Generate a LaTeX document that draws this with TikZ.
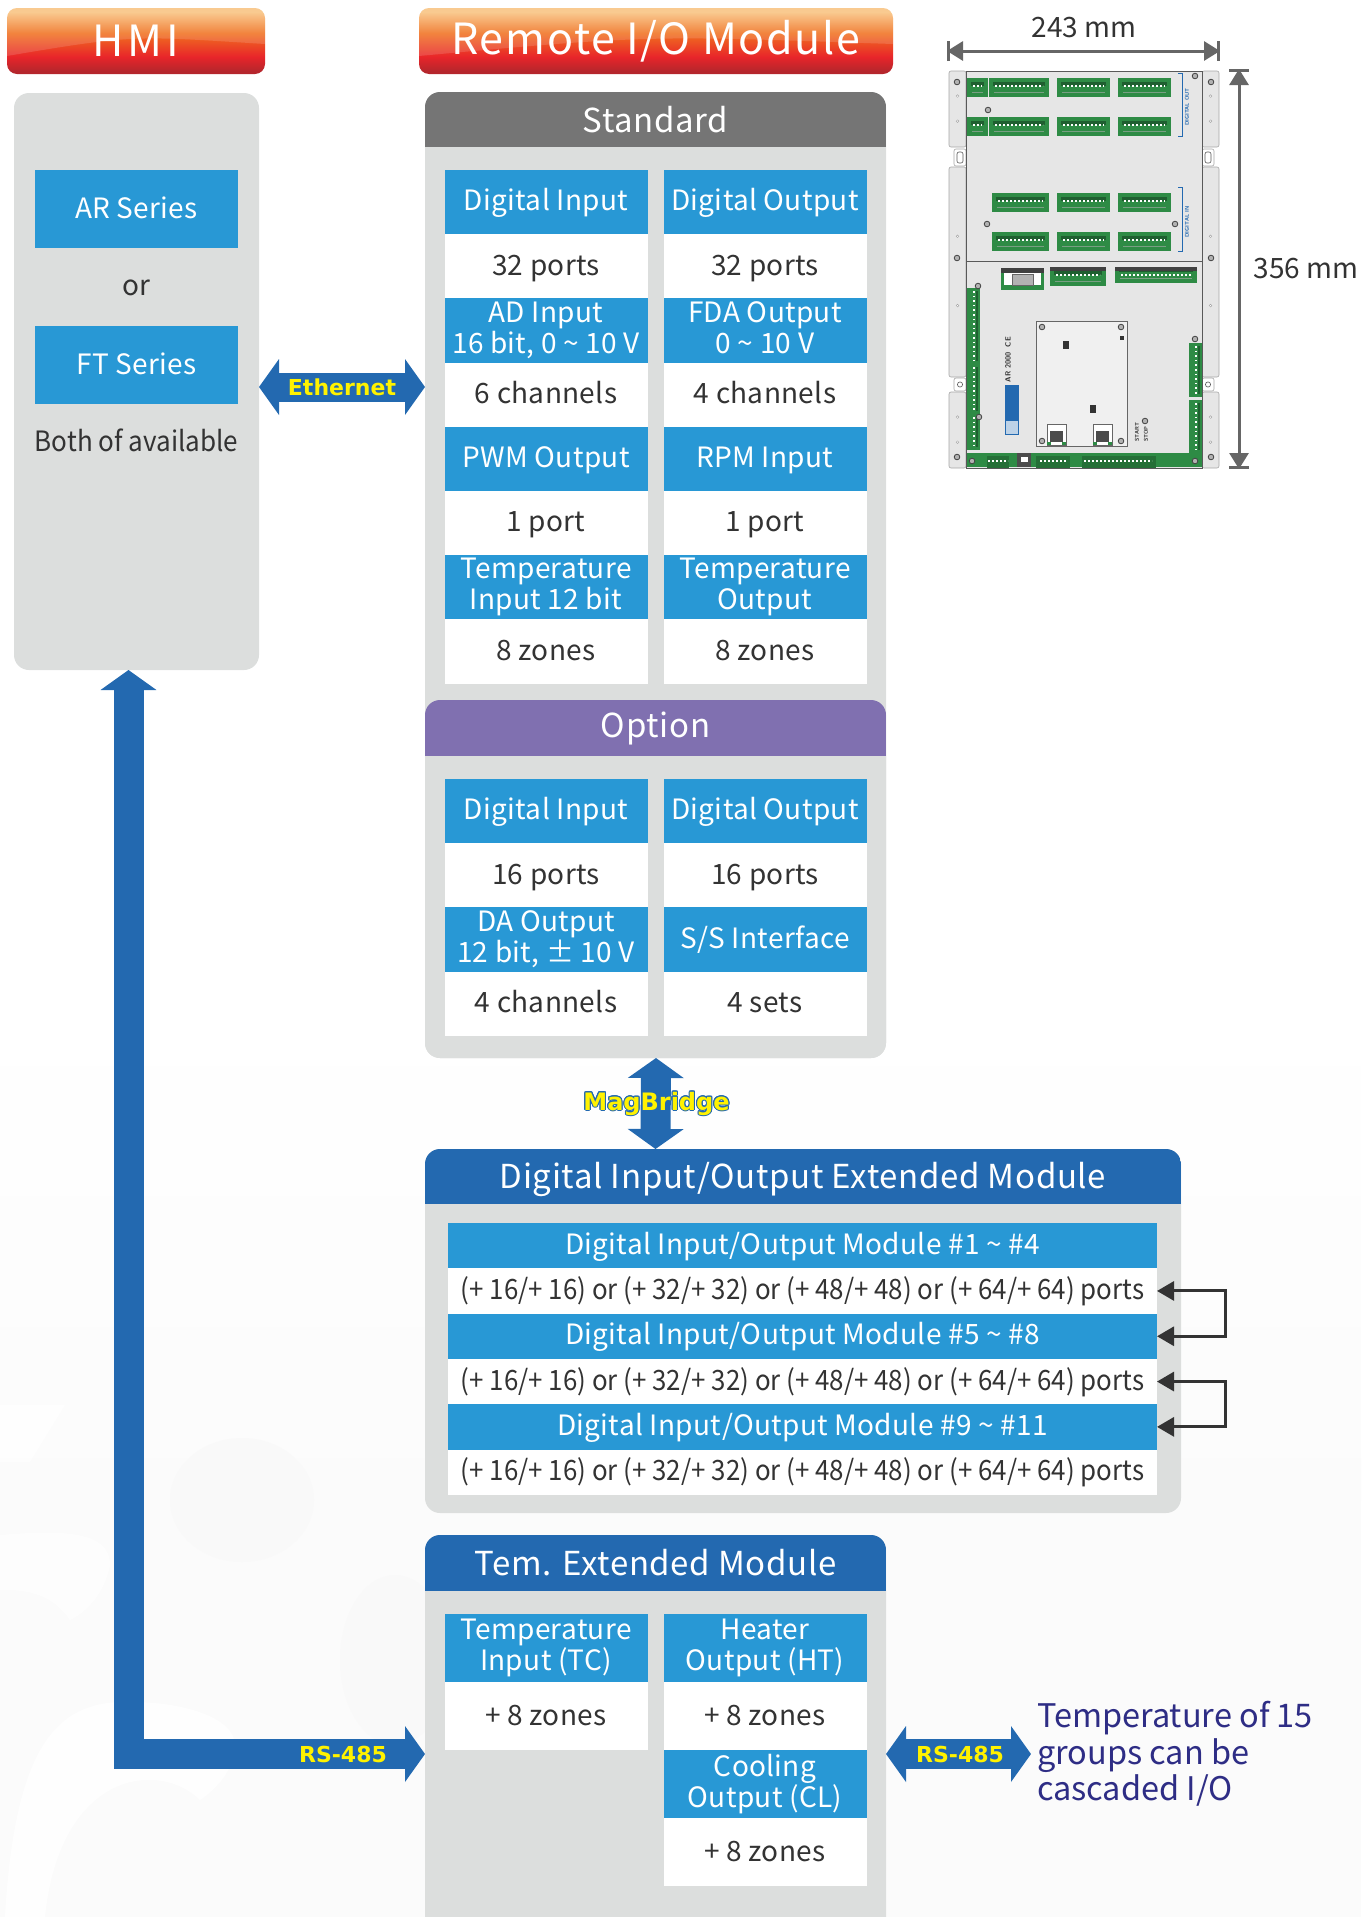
\documentclass[tikz,border=0pt]{standalone}
\usepackage{fontspec}
\usepackage[copies]{contour}
\setmainfont{Noto Sans CJK SC}
\newfontfamily\arrowfont{DejaVu Sans}
\usetikzlibrary{arrows.meta,positioning,calc}
\definecolor{cellblue}{HTML}{2898D5}
\definecolor{darkblue}{HTML}{2369B0}
\definecolor{panelgray}{HTML}{DCDEDD}
\definecolor{headgray}{HTML}{757575}
\definecolor{headpurple}{HTML}{8070B0}
\definecolor{inktext}{HTML}{333333}
\definecolor{notetext}{HTML}{2E2D85}
\definecolor{dimgray}{HTML}{666666}
\definecolor{boardgreen}{HTML}{2E8B45}
\definecolor{pingreen}{HTML}{1F5F30}
\definecolor{plate}{HTML}{E6E6E6}
\definecolor{bannerA}{HTML}{B5262C}
\definecolor{bannerB}{HTML}{E8252A}
\definecolor{bannerC}{HTML}{F0701F}
\definecolor{bannerD}{HTML}{F9C27E}
\pgfdeclareverticalshading{bannershade}{100bp}{
  color(0bp)=(bannerA); color(27bp)=(bannerA); color(38bp)=(bannerB);
  color(56bp)=(bannerC); color(72bp)=(bannerD); color(100bp)=(bannerD)}
\newcommand{\fsize}[1]{\fontsize{#1}{#1}\selectfont}
\newcommand{\connblock}[4]{
  \fill[boardgreen] (#1,#2) rectangle (#3,#4);
  \fill[pingreen] ($(#1,#2)+(4,4)$) rectangle ($(#3,#4)+(-4,-11)$);
  \draw[white, line width=1.2pt, dash pattern=on 1.6pt off 2.4pt] ($(#1,#2)+(6,8)$) -- ($(#3,#2)+(-6,8)$);
  \draw[pingreen!60!white, line width=1pt] ($(#1,#4)+(5,-5)$) -- ($(#3,#4)+(-5,-5)$);
}
\newcommand{\vconnblock}[4]{
  \fill[boardgreen] (#1,#2) rectangle (#3,#4);
  \draw[white, line width=1.2pt, dash pattern=on 1.6pt off 3pt] ($(#1,#2)+(7,3)$) -- ($(#1,#4)+(7,-3)$);
  \draw[pingreen, line width=1.2pt] ($(#3,#2)+(-3,3)$) -- ($(#3,#4)+(-3,-3)$);
}
\newcommand{\screw}[2]{\filldraw[fill=gray!60, draw=black!75, line width=.8pt] (#1,#2) circle (2.8pt);}
\begin{document}
\begin{tikzpicture}[
    x=1pt, y=-1pt,
    every node/.style={inner sep=0pt, outer sep=0pt, text=inktext},
    banner/.style={rounded corners=10pt, shading=bannershade, text=white, minimum height=66pt, font=\fsize{43}\addfontfeature{LetterSpace=4},
        path picture={\fill[white, opacity=.14, sharp corners] (path picture bounding box.north west) -- ([yshift=18pt]path picture bounding box.south west)
            .. controls ([yshift=-26pt]path picture bounding box.north) and ([yshift=-28pt]path picture bounding box.north) .. ([yshift=-36pt]path picture bounding box.north east) -- (path picture bounding box.north east) -- cycle;}},
    panel/.style={fill=panelgray, rounded corners=15pt},
    headed/.style 2 args={panel, path picture={\fill[#1, sharp corners] (path picture bounding box.north west) rectangle ([yshift=-#2]path picture bounding box.north east);}},
    headlabel/.style={text=white, minimum height=56pt, font=\fsize{33}\addfontfeature{LetterSpace=2}},
    linefix/.style={execute at begin node={\rule[-6pt]{0pt}{30pt}}, execute at end node={\rule[-6pt]{0pt}{30pt}}},
    cellhead/.style={fill=cellblue, text=white, minimum width=203pt, minimum height=64.2pt, align=center, linefix, font=\fontsize{28}{31}\selectfont\addfontfeature{LetterSpace=1.2}},
    twoline/.style={execute at begin node={\vspace*{5pt}\rule{0pt}{24pt}}},
    cellval/.style={cellhead, fill=white, text=inktext},
    rowhead/.style={cellhead, minimum width=709pt, minimum height=45.3pt},
    rowval/.style={rowhead, fill=white, text=inktext, font=\fsize{28}\addfontfeature{FakeStretch=0.925}},
    tallhead/.style={cellhead, twoline, minimum height=68pt},
    tallval/.style={cellval, minimum height=68pt},
    blockarrow/.style={darkblue, line width=#1, {Triangle[length=20pt,width=55pt]}-{Triangle[length=20pt,width=55pt]}},
    linkarrow/.style={draw=inktext, line width=3pt, {Triangle[length=17pt,width=19pt]}-{Triangle[length=17pt,width=19pt]}},
    dimarrow/.style={draw=dimgray, line width=3pt, {Bar[width=20pt,line width=3pt]Triangle[length=16pt,width=19pt,sep=-3pt]}-{Triangle[length=16pt,width=19pt,sep=-3pt]Bar[width=20pt,line width=3pt]}},
    linktext/.style={text=yellow, font=\arrowfont\bfseries\fsize{22}},
    flange/.style={fill=plate, draw=gray!70, line width=.6pt, rounded corners=2pt},
    tinytext/.style={text=#1, font=\sffamily\bfseries\fsize{5.5}, rotate=90}]
    \clip (0,0) rectangle (1361,1917);
    % faint backdrop
    \shade[top color=white, bottom color=gray!3] (0,1000) rectangle (1361,1500);
    \fill[gray!3] (0,1500) rectangle (1361,1917);
    \fill[white, opacity=.8] (5,1917) .. controls (15,1740) and (60,1700) .. (130,1702) .. controls (190,1702) and (235,1720) .. (235,1745) .. controls (235,1770) and (215,1790) .. (200,1800) .. controls (160,1760) and (60,1770) .. (45,1917) -- cycle;
    \fill[white, opacity=.7] (0,1535) .. controls (60,1530) and (110,1530) .. (110,1565) .. controls (105,1590) and (90,1610) .. (70,1620) .. controls (50,1590) and (20,1590) .. (0,1590) -- cycle;
    \fill[white, opacity=.7] (0,1405) -- (65,1405) -- (30,1462) -- (0,1462) -- cycle;
    \fill[gray!5] (242,1500) ellipse (72 and 62);
    \fill[gray!5] (395,1660) ellipse (55 and 85);
    % banners
    \node[banner, minimum width=258pt, font=\fsize{43}\addfontfeature{LetterSpace=9}] (hmi) at (136,41) {HMI};
    \node[banner, minimum width=474pt] (remote) at (656,41) {Remote I/O Module};
    % HMI panel
    \node[panel, minimum width=245pt, minimum height=577pt] (hmipanel) at (136.5,381.5) {};
    \node[cellhead, below=77pt of hmipanel.north, minimum height=78pt] (ar) {AR Series};
    \node[below=38pt of ar.south, anchor=center, linefix, font=\fsize{28}] (orword) {or};
    \node[cellhead, below=78pt of ar.south, minimum height=78pt] (ft) {FT Series};
    \node[below=38pt of ft.south, anchor=center, linefix, font=\fsize{28}\addfontfeature{FakeStretch=0.93}] (both) {Both of available};
    % standard panel
    \node[headed={headgray}{55pt}, minimum width=461pt, minimum height=966pt] (std) at (655.5,575) {};
    \node[headlabel, anchor=north] (stdlabel) at (std.north) {Standard};
    \node[cellhead, below left=78pt and 8pt of std.north] (di) {Digital Input};
    \node[cellhead, right=16pt of di] (do) {Digital Output};
    \node[cellval, below=0pt of di] (diV) {32 ports};
    \node[cellval, below=0pt of do] (doV) {32 ports};
    \node[cellhead, twoline, below=0pt of diV] (ad) {AD Input\\16 bit, 0 \textasciitilde{} 10 V};
    \node[cellhead, twoline, below=0pt of doV] (fda) {FDA Output\\0 \textasciitilde{} 10 V};
    \node[cellval, below=0pt of ad] (adV) {6 channels};
    \node[cellval, below=0pt of fda] (fdaV) {4 channels};
    \node[cellhead, below=0pt of adV] (pwm) {PWM Output};
    \node[cellhead, below=0pt of fdaV] (rpm) {RPM Input};
    \node[cellval, below=0pt of pwm] (pwmV) {1 port};
    \node[cellval, below=0pt of rpm] (rpmV) {1 port};
    \node[cellhead, twoline, below=0pt of pwmV] (ti) {Temperature\\Input 12 bit};
    \node[cellhead, twoline, below=0pt of rpmV] (to) {Temperature\\Output};
    \node[cellval, below=0pt of ti] (tiV) {8 zones};
    \node[cellval, below=0pt of to] (toV) {8 zones};
    % option panel
    \node[headed={headpurple}{56pt}, minimum width=461pt, minimum height=358pt] (opt) at (655.5,879) {};
    \node[headlabel, anchor=north] (optlabel) at (opt.north) {Option};
    \node[cellhead, below left=79pt and 8pt of opt.north] (odi) {Digital Input};
    \node[cellhead, right=16pt of odi] (odo) {Digital Output};
    \node[cellval, below=0pt of odi] (odiV) {16 ports};
    \node[cellval, below=0pt of odo] (odoV) {16 ports};
    \node[cellhead, twoline, below=0pt of odiV] (da) {DA Output\\12 bit, ± 10 V};
    \node[cellhead, below=0pt of odoV] (ss) {S/S Interface};
    \node[cellval, below=0pt of da] (daV) {4 channels};
    \node[cellval, below=0pt of ss] (ssV) {4 sets};
    % digital extended module
    \node[headed={darkblue}{55pt}, minimum width=756pt, minimum height=364pt] (dio) at (803,1331) {};
    \node[headlabel, anchor=north, yshift=-2pt] (diolabel) at (dio.north) {Digital Input/Output Extended Module};
    \node[rowhead, below=74pt of dio.north, xshift=-.5pt] (row1) {Digital Input/Output Module \#1 \textasciitilde{} \#4};
    \node[rowval, below=0pt of row1] (val1) {(+ 16/+ 16) or (+ 32/+ 32) or (+ 48/+ 48) or (+ 64/+ 64) ports};
    \node[rowhead, below=0pt of val1] (row2) {Digital Input/Output Module \#5 \textasciitilde{} \#8};
    \node[rowval, below=0pt of row2] (val2) {(+ 16/+ 16) or (+ 32/+ 32) or (+ 48/+ 48) or (+ 64/+ 64) ports};
    \node[rowhead, below=0pt of val2] (row3) {Digital Input/Output Module \#9 \textasciitilde{} \#11};
    \node[rowval, below=0pt of row3] (val3) {(+ 16/+ 16) or (+ 32/+ 32) or (+ 48/+ 48) or (+ 64/+ 64) ports};
    \draw[linkarrow] (val1.east) -- ++(68,0) |- (row2.east);
    \draw[linkarrow] (val2.east) -- ++(68,0) |- (row3.east);
    % temperature module
    \node[headed={darkblue}{56pt}, minimum width=461pt, minimum height=402pt] (tem) at (655.5,1736) {};
    \node[headlabel, anchor=north] (temlabel) at (tem.north) {Tem. Extended Module};
    \node[tallhead, below left=79pt and 8pt of tem.north] (tc) {Temperature\\Input (TC)};
    \node[tallhead, right=16pt of tc] (ht) {Heater\\Output (HT)};
    \node[tallval, below=0pt of tc] (tcV) {+ 8 zones};
    \node[tallval, below=0pt of ht] (htV) {+ 8 zones};
    \node[tallhead, below=0pt of htV] (cl) {Cooling\\Output (CL)};
    \node[tallval, below=0pt of cl] (clV) {+ 8 zones};
    \coordinate (temL) at (tem.west |- 0,1754);
    \coordinate (temR) at (tem.east |- 0,1754);
    \node[right=151pt of temR, anchor=west, align=left, text=notetext, font=\fontsize{32.5}{36.5}\selectfont] (cascade) {Temperature of 15\\groups can be\\cascaded I/O};
    % block arrows between the modules
    \draw[blockarrow=29pt] (hmipanel.east |- 0,387) -- (std.west |- 0,387) node[midway, linktext] (ethlabel) {Ethernet};
    \draw[blockarrow=30pt] (std.south) ++(0.5,0) -- (dio.north -| std.south);
    \node[linktext, font=\arrowfont\bfseries\fsize{24}] (maglabel) at (656.5,1104) {\contourlength{1pt}\contour{darkblue}{MagBridge}};
    \draw[blockarrow=30pt] (hmipanel.south -| 128.5,0) -- (128.5,1754) -- (temL);
    \node[linktext] (rslabelA) at (343,1754) {RS-485};
    \draw[blockarrow=30pt] (temR) -- ++(145,0);
    \node[linktext] (rslabelB) at (960,1754) {RS-485};
    % board photo
    \node[font=\fsize{28}] (widthtext) at (1084,28) {243 mm};
    \node[font=\fsize{28}] (heighttext) at (1306,269) {356 mm};
    \foreach \ya/\yb in {71/147, 167/377, 392/468} {
        \draw[flange] (949,\ya) rectangle (966,\yb);
        \draw[flange] (1202,\ya) rectangle (1219,\yb);
        \foreach \yc in {0.33,0.66} {
            \draw[gray!70, fill=white, line width=.5pt] (957.5,{\ya+(\yb-\ya)*\yc}) circle (1.3pt);
            \draw[gray!70, fill=white, line width=.5pt] (1210.5,{\ya+(\yb-\ya)*\yc}) circle (1.3pt);
        }
    }
    \foreach \ya/\yb in {149/166, 378/391} {
        \draw[flange, fill=white] (954,\ya) rectangle (966,\yb);
        \draw[flange, fill=white] (1202,\ya) rectangle (1214,\yb);
    }
    \draw[gray!70!black, line width=.6pt] (960,384.5) circle (2.6pt);
    \draw[gray!70!black, line width=.6pt] (1208,384.5) circle (2.6pt);
    \draw[gray!70!black, line width=.6pt, rounded corners=2pt] (957,152) rectangle (963,163);
    \draw[gray!70!black, line width=.6pt, rounded corners=2pt] (1205,152) rectangle (1211,163);
    \fill[plate] (966,71) rectangle (1202,468);
    \draw[gray!70!black, line width=.7pt] (966,71) rectangle (1202,468);
    \draw[gray!70!black, line width=.7pt] (966,261) -- (1202,261);
    \foreach \ya/\yb in {78/97, 117/136, 193/212, 232/251} {
        \connblock{1057}{\ya}{1110}{\yb}
        \connblock{1118}{\ya}{1171}{\yb}
    }
    \foreach \ya/\yb in {78/97, 117/136} {
        \connblock{967}{\ya}{988}{\yb}
        \connblock{989}{\ya}{1049}{\yb}
    }
    \foreach \ya/\yb in {193/212, 232/251} {
        \connblock{992}{\ya}{1049}{\yb}
    }
    \fill[boardgreen] (1001,268) rectangle (1044,290);
    \fill[white] (1004,273) rectangle (1041,285);
    \fill[black!75] (1001,268) rectangle (1044,272.5);
    \filldraw[fill=gray!60, draw=black!60] (1012,274) rectangle (1033,285);
    \connblock{1050}{267}{1106}{286}
    \connblock{1115}{267}{1197}{283}
    \fill[black!75] (1050,267) rectangle (1106,271);
    \fill[black!75] (1115,267) rectangle (1197,271);
    \vconnblock{967}{288}{980}{364}
    \vconnblock{967}{364}{980}{414}
    \vconnblock{967}{414}{980}{450}
    \vconnblock{1189}{343}{1202}{397}
    \vconnblock{1189}{400}{1202}{453}
    \fill[boardgreen] (967,453) rectangle (1202,467);
    \fill[boardgreen!80!black] (987,456) rectangle (1009,468);
    \fill[boardgreen!80!black] (1036,456) rectangle (1070,468);
    \fill[boardgreen!80!black] (1082,456) rectangle (1156,468);
    \draw[white, line width=1.2pt, dash pattern=on 1.6pt off 2.4pt] (988,461) -- (1008,461) (1040,461) -- (1066,461) (1084,461) -- (1152,461);
    \fill[black!70] (1017,453) rectangle (1031,467);
    \fill[white] (1021,457) rectangle (1028,462);
    \draw[gray!80!black, fill=plate!60!white, line width=.7pt] (1036,321) rectangle (1127,446);
    \foreach \xa in {1047,1093} {
        \draw[gray!80!black, fill=white, line width=.7pt] (\xa,424) rectangle ++(19,21);
        \fill[black!70] ({\xa+3},431) rectangle ++(13,11);
        \fill[boardgreen] (\xa,442) rectangle ++(4,3);
        \fill[boardgreen] ({\xa+15},442) rectangle ++(4,3);
    }
    \fill[black!80] (1063,341) rectangle (1069,349);
    \fill[black!80] (1090,405) rectangle (1096,413);
    \fill[black!80] (1120,336) rectangle (1124,340);
    \fill[darkblue] (1005,385) rectangle (1019,435);
    \fill[white!70!darkblue] (1006,421) rectangle (1018,434);
    \draw[darkblue, line width=.7pt] (1178,73) -| (1182,136) -- (1178,136);
    \draw[darkblue, line width=.7pt] (1178,187) -| (1182,251) -- (1178,251);
    \node[tinytext=darkblue] (digout) at (1187,107) {DIGITAL OUT};
    \node[tinytext=darkblue] (digin) at (1187,222) {DIGITAL IN};
    \node[tinytext=black!80, font=\sffamily\bfseries\fsize{7.5}] (modelname) at (1008,367) {AR 2000};
    \node[tinytext=black!80, font=\sffamily\bfseries\fsize{7.5}] (cemark) at (1008,342) {CE};
    \node[tinytext=black!80] (startlabel) at (1137,432) {START};
    \node[tinytext=black!80] (stoplabel) at (1146,434) {STOP};
    \foreach \xa/\ya in {957/82, 1195/76, 1211/82, 988/110, 987/224, 1175/224, 957/258, 1211/258, 978/286, 1195/339, 1042/327, 1121/327, 979/417, 1145/421, 1042/441, 1121/441, 957/457, 1211/457, 972/461, 1195/461} {
        \screw{\xa}{\ya}
    }
    \coordinate (widthL) at (947,51);
    \coordinate (widthR) at (1220,51);
    \coordinate (heightT) at (1239,69);
    \coordinate (heightB) at (1239,469);
    \draw[dimarrow] (widthL) -- (widthR);
    \draw[dimarrow] (heightT) -- (heightB);
\end{tikzpicture}
\end{document}
